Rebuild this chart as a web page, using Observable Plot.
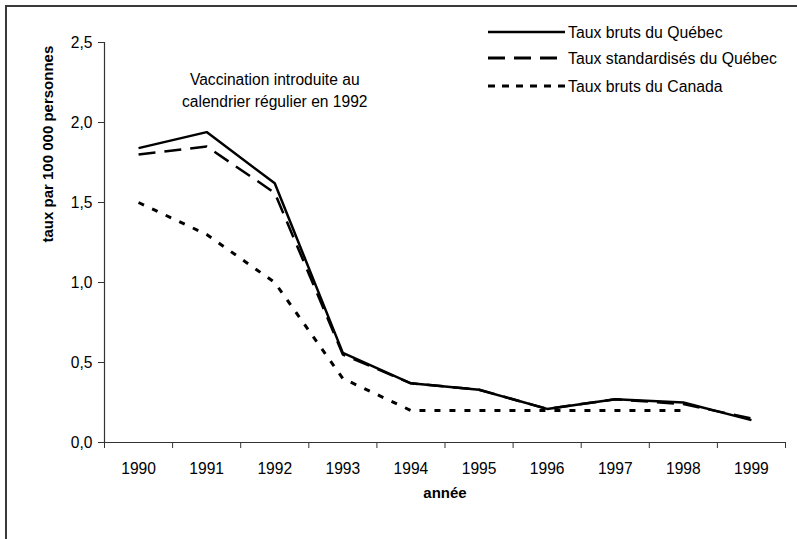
<!DOCTYPE html>
<html>
<head>
<meta charset="utf-8">
<script src="https://cdn.jsdelivr.net/npm/d3@7"></script>
<script src="https://cdn.jsdelivr.net/npm/@observablehq/plot@0.6"></script>
<style>
  html, body { margin: 0; padding: 0; background: #fff; }
  body { width: 797px; height: 539px; position: relative; overflow: hidden; font-family: "Liberation Sans", Arial, sans-serif; }
  #chart { position: absolute; left: 0; top: 0; }
  #frame { position: absolute; left: 5px; top: 5px; width: 820px; height: 560px; border-left: 2px solid #3a3a3a; border-top: 2px solid #3a3a3a; pointer-events: none; }
  #legend { position: absolute; left: 0; top: 0; }
</style>
</head>
<body>
<div id="chart"></div>
<div id="frame"></div>
<svg id="legend" width="797" height="120"></svg>
<script>
const years = [1990, 1991, 1992, 1993, 1994, 1995, 1996, 1997, 1998, 1999];
const quebecBruts = [1.84, 1.94, 1.62, 0.56, 0.37, 0.33, 0.21, 0.27, 0.25, 0.14];
const quebecStd = [1.80, 1.85, 1.56, 0.55, 0.37, 0.33, 0.21, 0.27, 0.24, 0.15];
const canadaBruts = [1.50, 1.30, 1.00, 0.40, 0.20, 0.20, 0.20, 0.20, 0.20, null];
const yTicks = [0, 0.5, 1.0, 1.5, 2.0, 2.5];
const seriesNames = ["Taux bruts du Québec", "Taux standardisés du Québec", "Taux bruts du Canada"];
const annotation = [{year: 1992, value: 2.21, text: "Vaccination introduite au\ncalendrier régulier en 1992"}];
const yLabel = "taux par 100 000 personnes";
const xLabel = "année";

const styles = [
  {strokeWidth: 2.5, dash: null},
  {strokeWidth: 2.5, dash: "17,9"},
  {strokeWidth: 3, dash: "6,9"}
];

const allSeries = [quebecBruts, quebecStd, canadaBruts].map((vals, i) =>
  years.map((y, j) => ({year: y, value: vals[j], series: seriesNames[i]})).filter(d => d.value != null)
);

const bounds = years.map(y => y - 0.5).concat([years[years.length - 1] + 0.5]);
const fmt = d => d.toFixed(1).replace(".", ",");
const font = '"Liberation Sans", Arial, sans-serif';
const fs = 15.6;

const chart = Plot.plot({
  width: 797,
  height: 539,
  marginLeft: 104,
  marginRight: 12,
  marginTop: 42,
  marginBottom: 97,
  style: {fontFamily: font, fontSize: fs + "px", color: "#000", background: "transparent"},
  x: {domain: [bounds[0], bounds[bounds.length - 1]]},
  y: {domain: [0, 2.5]},
  marks: [
    Plot.axisX({ticks: bounds, tickFormat: () => "", tickSize: 6, stroke: "#333", label: null}),
    Plot.axisX({ticks: years, tickFormat: d => String(d), tickSize: 0, tickPadding: 20, fontSize: fs, label: null}),
    Plot.axisY({ticks: yTicks, tickFormat: fmt, tickSize: 6, tickPadding: 6, stroke: "#333", fontSize: fs, label: null}),
    Plot.ruleY([0], {stroke: "#333", strokeWidth: 1.2}),
    Plot.ruleX([bounds[0]], {stroke: "#333", strokeWidth: 1.2}),
    ...allSeries.map((data, i) => Plot.line(data, {
      x: "year", y: "value", stroke: "#000",
      strokeWidth: styles[i].strokeWidth,
      strokeDasharray: styles[i].dash,
      strokeLinejoin: "miter", strokeLinecap: "butt"
    })),
    Plot.text(annotation, {x: "year", y: "value", text: "text", fontSize: fs, lineHeight: 1.4, fill: "#000"}),
    Plot.text([yLabel], {frameAnchor: "left", dx: -56, rotate: -90, fontWeight: "bold", fontSize: 15, fill: "#000"}),
    Plot.text([xLabel], {frameAnchor: "bottom", dy: 55, fontWeight: "bold", fontSize: 15, fill: "#000"})
  ]
});
document.getElementById("chart").appendChild(chart);

// legend
const legend = d3.select("#legend");
const rowsY = [32, 58, 86];
seriesNames.forEach((name, i) => {
  legend.append("line")
    .attr("x1", 488).attr("x2", 565).attr("y1", rowsY[i]).attr("y2", rowsY[i])
    .attr("stroke", "#000").attr("stroke-width", styles[i].strokeWidth + (i === 1 ? 0.5 : 0))
    .attr("stroke-dasharray", i === 2 ? "7,7" : styles[i].dash);
  legend.append("text")
    .attr("x", 568).attr("y", rowsY[i]).attr("dy", "0.35em")
    .attr("font-family", font).attr("font-size", 15.8).attr("fill", "#000")
    .text(name);
});
</script>
</body>
</html>
